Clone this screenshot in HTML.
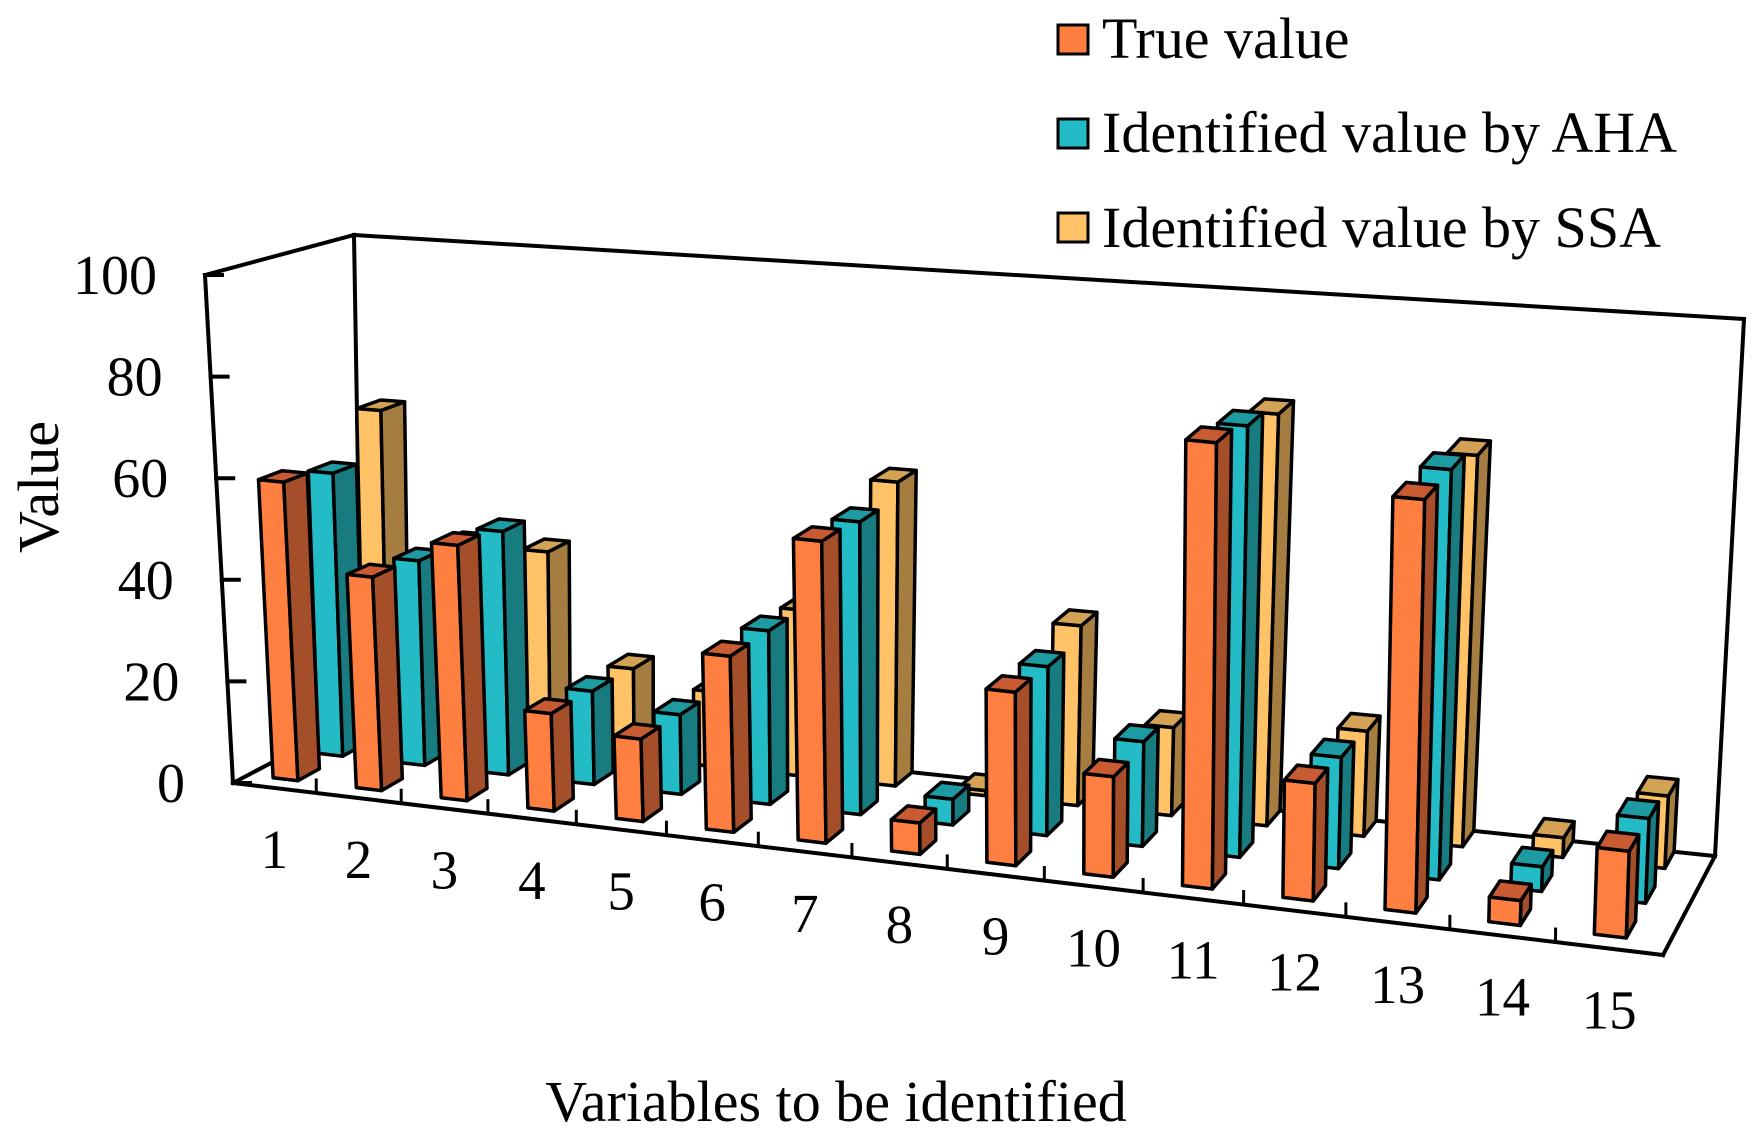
<!DOCTYPE html>
<html>
<head>
<meta charset="utf-8">
<style>
  html,body{margin:0;padding:0;background:#fff;}
  svg{display:block;}
  text{font-family:"Liberation Serif","Times New Roman",serif;fill:#000;}
</style>
</head>
<body>
<svg id="chart" width="1763" height="1137" viewBox="0 0 1763 1137" xmlns="http://www.w3.org/2000/svg">
  <g id="frame"></g>
  <g id="bars"></g>
  <g id="front"></g>
  <g id="labels"></g>
  <text x="0" y="0" font-size="58" text-anchor="middle" transform="translate(58,487) rotate(-90)">Value</text>
  <text x="836" y="1121" font-size="58" text-anchor="middle">Variables to be identified</text>
  <g>
    <g>
      <rect x="1058" y="25" width="30" height="29" fill="#FF7F40" stroke="#000" stroke-width="3"/>
      <text x="1102" y="58" font-size="58">True value</text>
    </g>
    <g>
      <rect x="1058" y="119" width="30" height="29" fill="#22BBC6" stroke="#000" stroke-width="3"/>
      <text x="1102" y="152" font-size="58">Identified value by AHA</text>
    </g>
    <g>
      <rect x="1058" y="213" width="30" height="29" fill="#FFC266" stroke="#000" stroke-width="3"/>
      <text x="1102" y="247" font-size="58">Identified value by SSA</text>
    </g>
  </g>
</svg>
<script>
const categories = ["1","2","3","4","5","6","7","8","9","10","11","12","13","14","15"];
const trueValues = [59, 42, 50, 19, 16, 34, 58, 6, 33, 19, 84, 22, 77, 4.6, 16];
const ahaValues  = [57, 41, 48.5, 18.5, 15.7, 34, 57, 5, 32.5, 20, 82, 21, 77, 4.6, 15.7];
const ssaValues  = [66, 40, 40, 18, 15, 33, 60, 1, 35, 17, 79, 20, 74, 3.7, 13.5];
const yTicks = [0, 20, 40, 60, 80, 100];

const NS = "http://www.w3.org/2000/svg";
const FL=[233,783], FR=[1663,955], BR=[1715,856], BL=[362,715];
const TFL=[205,275], TFR=[1681,410], TBR=[1744,319], TBL=[354,235];
const N = categories.length;
function warp(t){ return t - 0.136*t*(1-t); }
function bil(q0,q1,q2,q3,t,s){
  const w=warp(t);
  const fx=q0[0]+(q1[0]-q0[0])*w, fy=q0[1]+(q1[1]-q0[1])*w;
  const bx=q3[0]+(q2[0]-q3[0])*w, by=q3[1]+(q2[1]-q3[1])*w;
  return [fx+(bx-fx)*s, fy+(by-fy)*s];
}
function P(t,s,v){
  const b=bil(FL,FR,BR,BL,t,s), u=bil(TFL,TFR,TBR,TBL,t,s), k=v/100;
  return [b[0]+(u[0]-b[0])*k, b[1]+(u[1]-b[1])*k];
}
function line(g,a,b,w,name){
  const l=document.createElementNS(NS,"line");
  l.setAttribute("x1",a[0]);l.setAttribute("y1",a[1]);l.setAttribute("x2",b[0]);l.setAttribute("y2",b[1]);
  l.setAttribute("stroke","#000");l.setAttribute("stroke-width",w);l.setAttribute("stroke-linecap","square");
  
  
  g.appendChild(l);
}
function poly(g,pts,fill,name){
  const p=document.createElementNS(NS,"polygon");
  p.setAttribute("points",pts.map(q=>q[0].toFixed(1)+","+q[1].toFixed(1)).join(" "));
  p.setAttribute("fill",fill);p.setAttribute("stroke","#000");p.setAttribute("stroke-width","3.5");
  p.setAttribute("stroke-linejoin","round");
  
  
  g.appendChild(p);
}
function text(g,x,y,str,size,anchor,name){
  const t=document.createElementNS(NS,"text");
  t.setAttribute("x",x);t.setAttribute("y",y);t.setAttribute("font-size",size);t.setAttribute("text-anchor",anchor);
  t.textContent=str;
  
  
  g.appendChild(t);
}
const fr=document.getElementById("frame");
line(fr,FL,TFL,4,"left-axis-line");
line(fr,TFL,TBL,4,"left-wall-top");
line(fr,TBL,BL,4,"back-wall-left-edge");
line(fr,TBL,TBR,4,"back-wall-top");
line(fr,TBR,BR,4,"back-wall-right-edge");
line(fr,BL,BR,4,"floor-back-edge");
line(fr,FL,BL,4,"floor-left-edge");
line(fr,FR,BR,4,"floor-right-edge");
const lab=document.getElementById("labels");
yTicks.forEach(v=>{
  const a=P(0,0,v);
  line(fr,a,[a[0]+17,a[1]],4,"y-tick");
  text(lab,a[0]-48,a[1]+19,String(v),56,"end","y-tick-label");
});
const series=[
  {vals:ssaValues, s0:0.83, name:"ssa", front:"#FFC266", side:"#A67D40", top:"#D4A255"},
  {vals:ahaValues, s0:0.475, name:"aha", front:"#22BBC6", side:"#177B80", top:"#1E9AA2"},
  {vals:trueValues, s0:0.12, name:"true", front:"#FF7F40", side:"#A54E2A", top:"#C95B32"}
];
const bg=document.getElementById("bars");
const DEPTH=0.17;
series.forEach(sr=>{
  sr.vals.forEach((v,i)=>{
    const t0=(i+0.3)/N, t1=(i+0.6)/N, s0=sr.s0, s1=sr.s0+DEPTH;
    const g=document.createElementNS(NS,"g");
    
    
    bg.appendChild(g);
    poly(g,[P(t0,s0,0),P(t1,s0,0),P(t1,s0,v),P(t0,s0,v)],sr.front,"bar-front-face");
    poly(g,[P(t1,s0,0),P(t1,s1,0),P(t1,s1,v),P(t1,s0,v)],sr.side,"bar-side-face");
    poly(g,[P(t0,s0,v),P(t1,s0,v),P(t1,s1,v),P(t0,s1,v)],sr.top,"bar-top-face");
  });
});
const fg=document.getElementById("front");
line(fg,FL,FR,4,"x-axis-line");
for(let k=1;k<N;k++){
  const a=P(k/N,0,0);
  line(fg,a,[a[0],a[1]-13],3,"x-tick");
}
categories.forEach((c,i)=>{
  const a=P((i+0.5)/N,0,0);
  text(lab,a[0],a[1]+80,c,55,"middle","x-tick-label");
});
</script>
</body>
</html>
